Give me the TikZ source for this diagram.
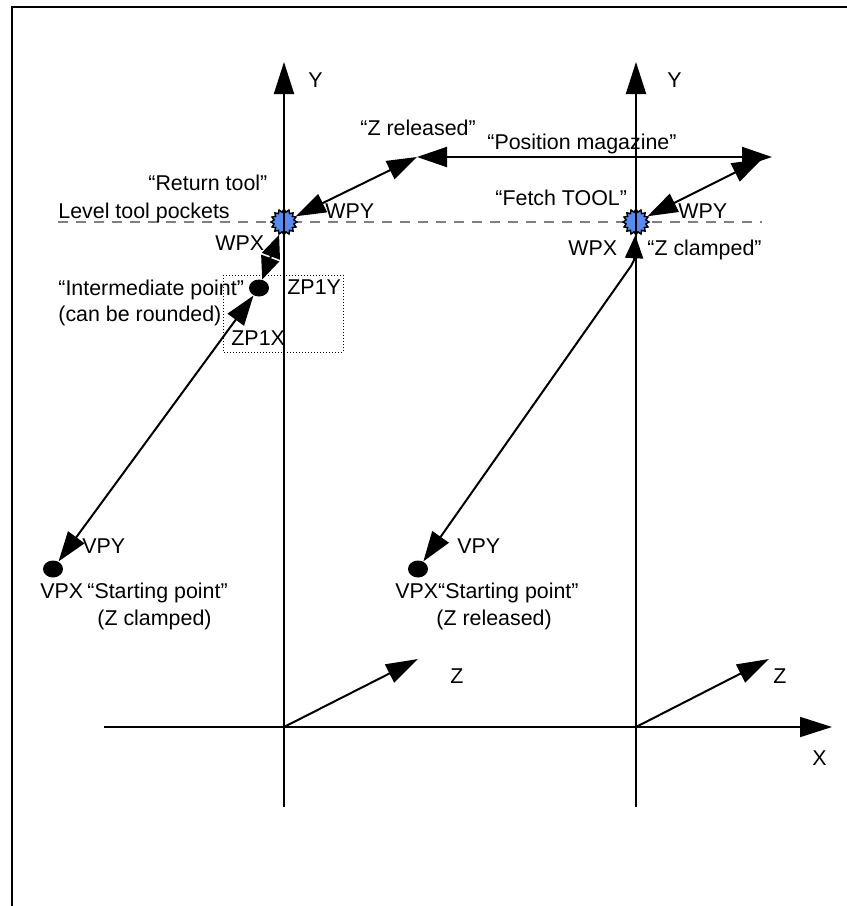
\documentclass[tikz,border=0pt]{standalone}
\usepackage{fontspec}
\setmainfont{Liberation Sans}
\usetikzlibrary{arrows.meta,shapes.geometric}
\definecolor{toolblue}{RGB}{88,138,240}
\tikzset{
  axis/.style={line width=1pt,-{Triangle[length=16pt,width=10pt]}},
  move/.style={line width=1pt,{Triangle[length=15pt,width=10pt]}-{Triangle[length=15pt,width=10pt]}},
  half/.style={line width=1pt,-{Triangle[length=11.5pt,width=9.5pt]}},
  toolpt/.style={star,star points=16,star point ratio=1.3,minimum size=13pt,inner sep=0pt,fill=toolblue,draw,line width=0.7pt},
  dot/.style={ellipse,fill,minimum width=10pt,minimum height=8.5pt,inner sep=0pt},
  lbl/.style={anchor=base west,inner sep=0pt,font=\fontsize{10.7}{12.8}\selectfont}
}
\begin{document}
\begin{tikzpicture}[x=0.5pt,y=-0.5pt]
  \useasboundingbox (0,0) rectangle (847,906);
  \draw[line width=1pt] (12,906) -- (12,7) -- (847,7);
  \coordinate (o1) at (284,727);
  \coordinate (o2) at (636,727);
  \coordinate (b1) at (284,807);
  \coordinate (b2) at (636,807);
  \coordinate (y1) at (284,62);
  \coordinate (y2) at (636,62);
  \coordinate (xl) at (104,727);
  \coordinate (xr) at (832,727);
  \coordinate (z1) at (418,659);
  \coordinate (z2) at (769,659);
  \coordinate (pm1) at (417,157);
  \coordinate (pm2) at (772,157);
  \coordinate (wp2) at (762,159);
  \coordinate (mw) at (271,256);
  \coordinate (k1) at (631,266);
  \coordinate (k2) at (634,260);
  \draw[dashed,gray,line width=0.6pt,dash pattern=on 5pt off 4pt] (58,222) -- (762,222);
  \node[toolpt] (tp1) at (284,222) {};
  \node[toolpt] (tp2) at (636,222) {};
  \node[dot] (ip) at (259,288) {};
  \node[dot] (sp1) at (53,569) {};
  \node[dot] (sp2) at (418,569) {};
  \draw[densely dotted,line width=0.5pt] (223,275) rectangle (343,352);
  \draw[axis] (b1) -- (y1);
  \draw[axis] (b2) -- (y2);
  \draw[axis] (xl) -- (xr);
  \draw[axis] (o1) -- (z1);
  \draw[axis] (o2) -- (z2);
  \draw[move] (tp1) -- (pm1);
  \draw[move] (pm1) -- (pm2);
  \draw[move] (tp2) -- (wp2);
  \draw[half] (mw) -- (tp1);
  \draw[half] (mw) -- (ip);
  \draw[move] (sp1) -- (ip);
  \draw[line width=1pt,{Triangle[length=15pt,width=10pt]}-{Triangle[length=11.5pt,width=9pt]}] (sp2) -- (k1) -- (k2) -- (tp2);
  \node[lbl] (ly1) at (308,87) {Y};
  \node[lbl] (ly2) at (667,87) {Y};
  \node[lbl] (lx) at (812,765) {X};
  \node[lbl] (lz1) at (450,683) {Z};
  \node[lbl] (lz2) at (773,683) {Z};
  \node[lbl] (lzr) at (360,135) {“Z released”};
  \node[lbl] (lpm) at (487,149) {“Position magazine”};
  \node[lbl] (lrt) at (148,190) {“Return tool”};
  \node[lbl] (lft) at (495,205) {“Fetch TOOL”};
  \node[lbl] (llv) at (58,218) {Level tool pockets};
  \node[lbl] (lwpy1) at (325,218) {WPY};
  \node[lbl] (lwpy2) at (678,218) {WPY};
  \node[lbl] (lwpx1) at (215,250) {WPX};
  \node[lbl] (lwpx2) at (568,255) {WPX};
  \node[lbl] (lzc2) at (647,255) {“Z clamped”};
  \node[lbl] (lip) at (58,295) {“Intermediate point”};
  \node[lbl] (lir) at (58,321) {(can be rounded)};
  \node[lbl] (lzy) at (287,294) {ZP1Y};
  \node[lbl] (lzx) at (231,345) {ZP1X};
  \node[lbl] (lvpy1) at (82,553) {VPY};
  \node[lbl] (lvpx1) at (40,598) {VPX};
  \node[lbl] (lsp1) at (87,598) {“Starting point”};
  \node[lbl] (lzc1) at (97,625) {(Z clamped)};
  \node[lbl] (lvpy2) at (457,553) {VPY};
  \node[lbl] (lsp2) at (395,598) {VPX“Starting point”};
  \node[lbl] (lzr2) at (436,625) {(Z released)};
\end{tikzpicture}
\end{document}
